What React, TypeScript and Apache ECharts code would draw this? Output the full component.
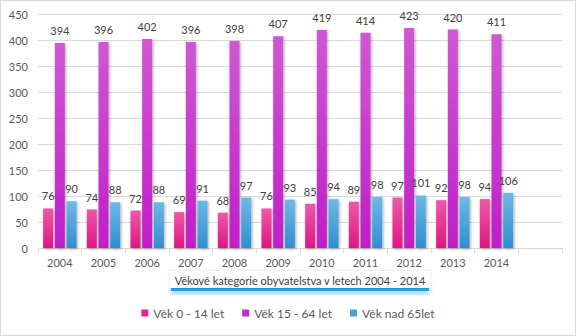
import React, { useEffect, useRef } from "react";
import * as echarts from "echarts";

const categories = ["2004", "2005", "2006", "2007", "2008", "2009", "2010", "2011", "2012", "2013", "2014", ""];
const age0to14 = [76, 74, 72, 69, 68, 76, 85, 89, 97, 92, 94];
const age15to64 = [394, 396, 402, 396, 398, 407, 419, 414, 423, 420, 411];
const age65plus = [90, 88, 88, 91, 97, 93, 94, 98, 101, 98, 106];
const seriesNames = ["Věk 0 - 14 let", "Věk 15 - 64 let", "Věk nad 65let"];
const chartTitle = "Věkové kategorie obyvatelstva v letech 2004 - 2014";

const FONT = "Lato, 'Open Sans', sans-serif";

function grad(top: string, bottom: string) {
  return new echarts.graphic.LinearGradient(0, 0, 0, 1, [
    { offset: 0, color: top },
    { offset: 1, color: bottom },
  ]);
}

export default function App() {
  const ref = useRef<HTMLDivElement>(null);
  useEffect(() => {
    document.body.style.margin = "0";
    if (!ref.current) return;
    const chart = echarts.init(ref.current, undefined, { renderer: "svg" });
    const mk = (name: string, data: number[], top: string, bottom: string) => ({
      name,
      type: "bar",
      data,
      barWidth: 10,
      barGap: "17%",
      itemStyle: {
        color: grad(top, bottom),
        shadowColor: "rgba(0,0,0,0.35)",
        shadowBlur: 3,
        shadowOffsetX: 1,
        shadowOffsetY: 1,
      },
      label: {
        show: true,
        position: "top",
        distance: 7,
        color: "#404040",
        fontSize: 11,
        fontFamily: FONT,
      },
    });
    chart.setOption({
      animation: false,
      backgroundColor: "#ffffff",
      grid: { left: 38, right: 14, top: 14, bottom: 88, containLabel: false },
      legend: {
        bottom: 12,
        left: "center",
        itemWidth: 7,
        itemHeight: 7,
        itemGap: 18,
        icon: "rect",
        textStyle: { color: "#595959", fontSize: 12, fontFamily: FONT },
        data: [
          { name: seriesNames[0], itemStyle: { color: "#e2288f" } },
          { name: seriesNames[1], itemStyle: { color: "#c82bcd" } },
          { name: seriesNames[2], itemStyle: { color: "#45a1dc" } },
        ],
      },
      xAxis: {
        type: "category",
        data: categories,
        axisLine: { lineStyle: { color: "#d9d9d9" } },
        axisTick: { show: true, length: 5, lineStyle: { color: "#d9d9d9" } },
        axisLabel: { color: "#595959", fontSize: 11, fontFamily: FONT, margin: 9 },
      },
      yAxis: {
        type: "value",
        min: 0,
        max: 450,
        interval: 50,
        axisLine: { show: false },
        axisTick: { show: false },
        axisLabel: { color: "#595959", fontSize: 11, fontFamily: FONT, margin: 10 },
        splitLine: { lineStyle: { color: "#d9d9d9" } },
      },
      series: [
        mk(seriesNames[0], age0to14, "#ee58a8", "#df1683"),
        mk(seriesNames[1], age15to64, "#cf58d3", "#c01ec8"),
        mk(seriesNames[2], age65plus, "#6fb8e6", "#2f8ecf"),
      ],
      graphic: [
        {
          type: "rect",
          shape: { x: 0.5, y: 0.5, width: 575, height: 335 },
          style: { fill: "none", stroke: "#d9d9d9", lineWidth: 1 },
          silent: true,
        },
        {
          type: "rect",
          shape: { x: 171, y: 287, width: 258, height: 4 },
          style: { fill: "#1ea7ef", shadowColor: "rgba(30,167,239,0.8)", shadowBlur: 6, shadowOffsetY: 2 },
          silent: true,
        },
        {
          type: "rect",
          shape: { x: 170, y: 271, width: 260, height: 17 },
          style: { fill: "#ffffff", shadowColor: "rgba(0,0,0,0.15)", shadowBlur: 3 },
          silent: true,
        },
        {
          type: "text",
          x: 300,
          y: 280,
          style: {
            text: chartTitle,
            fill: "#404040",
            fontSize: 11,
            fontFamily: FONT,
            textAlign: "center",
            textVerticalAlign: "middle",
          },
          silent: true,
        },
      ],
    });
    return () => chart.dispose();
  }, []);
  return <div ref={ref} style={{ width: 576, height: 336 }} />;
}
